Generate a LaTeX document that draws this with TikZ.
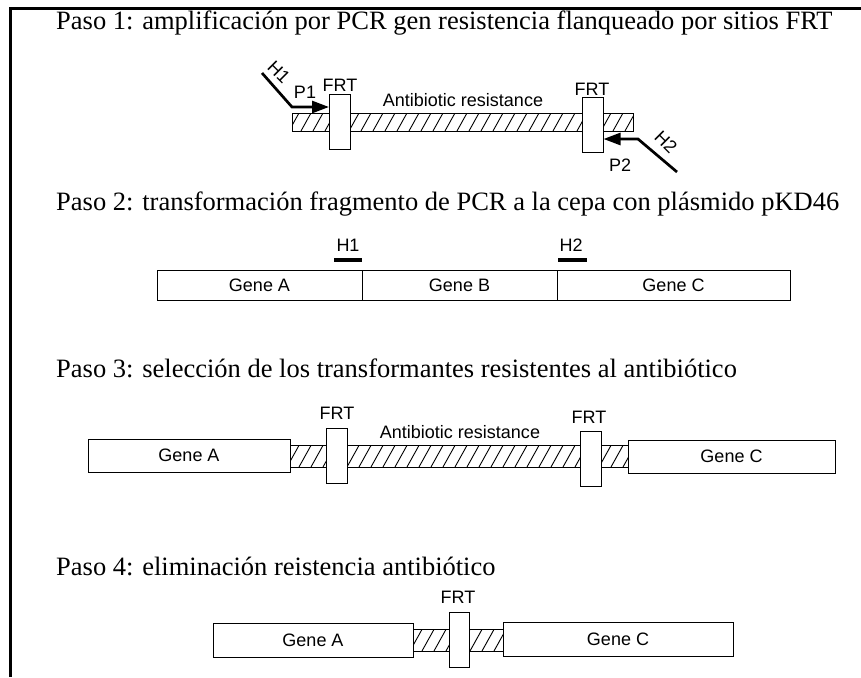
\documentclass[tikz,border=0pt]{standalone}
\usepackage{fontspec}
\setmainfont{Liberation Serif}
\newfontfamily\labfont{Liberation Sans}
\usetikzlibrary{arrows.meta}
\begin{document}
\begin{tikzpicture}[x=1pt,y=-1pt,
 pasotext/.style={anchor=base west, inner sep=0pt, font=\fontsize{26.5}{30}\selectfont},
 lab/.style={inner sep=0pt, font=\labfont\fontsize{18}{20}\selectfont},
 genebox/.style={draw, line width=1pt, fill=white, inner sep=0pt, font=\labfont\fontsize{18}{20}\selectfont},
 frtbox/.style={draw, line width=1pt, fill=white, inner sep=0pt, minimum width=21pt, minimum height=55pt},
 hatchbar/.style={draw, line width=1pt, inner sep=0pt,
   path picture={\foreach \k in {0,...,32}{\draw[line width=0.9pt] ([xshift=\k*12pt-15pt]path picture bounding box.south west) -- ++(15pt,27pt);}}},
 primer/.style={line width=2.7pt, -{Triangle[length=17pt,width=12pt]}},
 homol/.style={line width=4pt},
 frameline/.style={line width=3pt}]
\useasboundingbox (0,0) rectangle (861,677);
\fill[white] (0,0) rectangle (861,677);
\draw[frameline] (10,677) -- (10,8.5) -- (861,8.5);

% Step 1
\node[pasotext] (t1) at (56,30) {Paso 1: amplificación por PCR gen resistencia flanqueado por sitios FRT};
\node[hatchbar, minimum width=341pt, minimum height=18pt] (b1) at (462.5,122) {};
\node[frtbox] (f1a) at (340,121.5) {};
\node[frtbox] (f1b) at (592.5,125) {};
\node[lab] (l1a) at (340,85) {FRT};
\node[lab] (l1b) at (592,89) {FRT};
\node[lab] (l1c) at (463,100) {Antibiotic resistance};
\node[lab] (p1) at (305,92) {P1};
\node[lab, rotate=-45] (h1) at (279,72) {H1};
\node[lab] (p2) at (620,165) {P2};
\node[lab, rotate=-45] (h2) at (666,142) {H2};
\coordinate (h1s) at (262,73);
\coordinate (h1k) at (292,107);
\draw[primer, line join=miter] (h1s) -- (h1k) -- (f1a.west |- h1k);
\coordinate (h2s) at (677,172);
\coordinate (h2k) at (638,139);
\draw[primer, line join=miter] (h2s) -- (h2k) -- (f1b.east |- h2k);

% Step 2
\node[pasotext] (t2) at (56,210) {Paso 2: transformación fragmento de PCR a la cepa con plásmido pKD46};
\node[genebox, minimum width=205pt, minimum height=30pt] (g2a) at (259.5,285) {Gene A};
\node[genebox, minimum width=195pt, minimum height=30pt] (g2b) at (459.5,285) {Gene B};
\node[genebox, minimum width=233pt, minimum height=30pt] (g2c) at (673.5,285) {Gene C};
\draw[homol] (334,260) -- (362,260);
\draw[homol] (558,260) -- (587,260);
\node[lab] (h1b) at (348,245) {H1};
\node[lab] (h2b) at (571,245) {H2};

% Step 3
\node[pasotext] (t3) at (56,377) {Paso 3: selección de los transformantes resistentes al antibiótico};
\node[hatchbar, minimum width=338pt, minimum height=22pt] (b3) at (459,456) {};
\node[genebox, minimum width=202pt, minimum height=33pt] (g3a) at (189,455.5) {Gene A};
\node[genebox, minimum width=207pt, minimum height=33pt] (g3c) at (731.5,456.5) {Gene C};
\node[frtbox] (f3a) at (337,455.5) {};
\node[frtbox] (f3b) at (590.5,458.5) {};
\node[lab] (l3a) at (337,413) {FRT};
\node[lab] (l3b) at (589,417) {FRT};
\node[lab] (l3c) at (460,432) {Antibiotic resistance};

% Step 4
\node[pasotext] (t4) at (56,575) {Paso 4: eliminación reistencia antibiótico};
\node[hatchbar, minimum width=90pt, minimum height=22pt] (b4) at (458,640) {};
\node[genebox, minimum width=200pt, minimum height=34pt] (g4a) at (313,640) {Gene A};
\node[genebox, minimum width=230pt, minimum height=34pt] (g4c) at (618,639) {Gene C};
\node[frtbox, minimum width=20pt] (f4) at (459,639.5) {};
\node[lab] (l4) at (458,597) {FRT};
\end{tikzpicture}
\end{document}
